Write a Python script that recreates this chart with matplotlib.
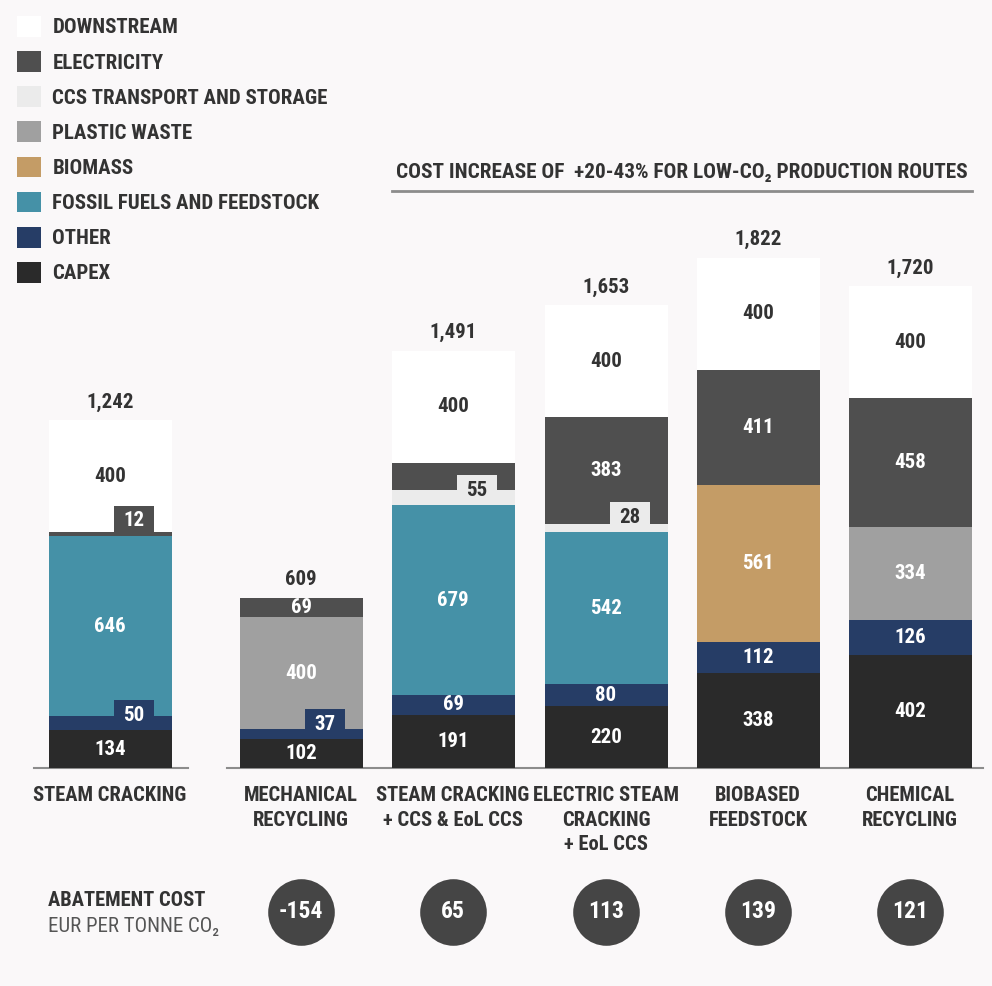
import matplotlib
matplotlib.use("Agg")
import matplotlib.pyplot as plt
from matplotlib.patches import Patch, Rectangle

plt.rcParams['font.family'] = ['Roboto Condensed', 'Liberation Sans Narrow', 'Roboto', 'DejaVu Sans']

# data
categories = ["STEAM CRACKING", "MECHANICAL\nRECYCLING", "STEAM CRACKING\n+ CCS & EoL CCS",
              "ELECTRIC STEAM\nCRACKING\n+ EoL CCS", "BIOBASED\nFEEDSTOCK", "CHEMICAL\nRECYCLING"]
capex = [134, 102, 191, 220, 338, 402]
other = [50, 37, 69, 80, 112, 126]
fossil = [646, 0, 679, 542, 0, 0]
biomass = [0, 0, 0, 0, 561, 0]
plastic = [0, 400, 0, 0, 0, 334]
ccs = [0, 0, 55, 28, 0, 0]
electricity = [12, 69, 97, 383, 411, 458]
downstream = [400, 0, 400, 400, 400, 400]
totals = [1242, 609, 1491, 1653, 1822, 1720]
abatement = [None, -154, 65, 113, 139, 121]

# layout (pixel based)
W, H = 992, 986
BASE = 768          # baseline pixel row
SCALE = 0.28        # pixels per EUR
x_pos = [110, 301, 453, 606, 758, 910]
bar_w = 123

def py(p):
    return (BASE - p) / SCALE

series = [
    ("CAPEX", capex, "#2a2a2a", "white"),
    ("OTHER", other, "#263d66", "white"),
    ("FOSSIL FUELS AND FEEDSTOCK", fossil, "#4591a7", "white"),
    ("BIOMASS", biomass, "#c49c66", "white"),
    ("PLASTIC WASTE", plastic, "#a0a0a0", "white"),
    ("CCS TRANSPORT AND STORAGE", ccs, "#ebebeb", "#333333"),
    ("ELECTRICITY", electricity, "#4f4f4f", "white"),
    ("DOWNSTREAM", downstream, "#ffffff", "#333333"),
]
tabbed = {("ELECTRICITY", 0), ("OTHER", 0), ("OTHER", 1), ("CCS TRANSPORT AND STORAGE", 2),
          ("CCS TRANSPORT AND STORAGE", 3)}
hidden = {("ELECTRICITY", 2)}

bg = "#faf8f9"
fig = plt.figure(figsize=(W / 100, H / 100), dpi=100, facecolor=bg)
ax = fig.add_axes([0, 0, 1, 1])
ax.set_facecolor(bg)
ax.set_xlim(0, W)
ax.set_ylim(py(H), py(0))
ax.axis("off")

bottom = [0] * len(categories)
tabs = []
for name, vals, color, tcolor in series:
    ax.bar(x_pos, vals, width=bar_w, bottom=bottom, color=color, linewidth=0, zorder=2)
    for i, v in enumerate(vals):
        if v == 0 or (name, i) in hidden:
            continue
        if (name, i) in tabbed:
            tabs.append((x_pos[i], bottom[i], v, color, tcolor))
        else:
            ax.text(x_pos[i], bottom[i] + v / 2, str(v), ha="center", va="center",
                    color=tcolor, fontsize=15, fontweight="bold", zorder=4)
    bottom = [b + v for b, v in zip(bottom, vals)]

tab_h = 30 / SCALE
for xc, b, v, color, tcolor in tabs:
    ax.add_patch(Rectangle((xc + 4, b), 40, tab_h, facecolor=color, linewidth=0, zorder=3))
    ax.text(xc + 24, b + tab_h / 2, str(v), ha="center", va="center",
            color=tcolor, fontsize=15, fontweight="bold", zorder=4)

for i, t in enumerate(totals):
    ax.text(x_pos[i], bottom[i] + 18 / SCALE, f"{t:,}", ha="center", va="center",
            color="#333333", fontsize=15, fontweight="bold")

# baselines
ax.plot([34, 188], [0, 0], color="#8c8c8c", lw=1.5, zorder=1)
ax.plot([227, 983], [0, 0], color="#8c8c8c", lw=1.5, zorder=1)

# category labels
for xc, cat in zip(x_pos, categories):
    ax.text(xc, py(786), cat, ha="center", va="top", color="#333333", fontsize=14.8,
            fontweight="bold", linespacing=1.38)

# abatement cost
ax.text(48, py(900), "ABATEMENT COST", ha="left", va="center", color="#333333",
        fontsize=14.8, fontweight="bold")
ax.text(48, py(927), "EUR PER TONNE CO₂", ha="left", va="center", color="#555555",
        fontsize=15)
for xc, a in zip(x_pos, abatement):
    if a is None:
        continue
    ax.scatter([xc], [py(912)], s=2300, color="#454545", zorder=3, linewidths=0)
    ax.text(xc, py(912), str(a), ha="center", va="center", color="white",
            fontsize=17, fontweight="bold", zorder=4)

# title over low-CO2 routes
ax.text(682, py(172), "COST INCREASE OF  +20-43% FOR LOW-CO₂ PRODUCTION ROUTES",
        ha="center", va="center", color="#333333", fontsize=15.3, fontweight="bold")
ax.plot([392, 972], [py(191), py(191)], color="#8c8c8c", lw=2)

# legend
handles = [Patch(facecolor=c, edgecolor="none", label=n) for n, _, c, _ in series[::-1]]
leg = ax.legend(handles=handles, loc="upper left", bbox_to_anchor=(17 / W, 1 - 16 / H),
                bbox_transform=fig.transFigure, frameon=False, borderpad=0, borderaxespad=0,
                handlelength=1.15, handleheight=1.15, handletextpad=0.55, labelspacing=0.66,
                prop={"size": 15, "weight": "bold"})
for txt in leg.get_texts():
    txt.set_color("#333333")

fig.savefig("out.png", dpi=100, facecolor=bg)
